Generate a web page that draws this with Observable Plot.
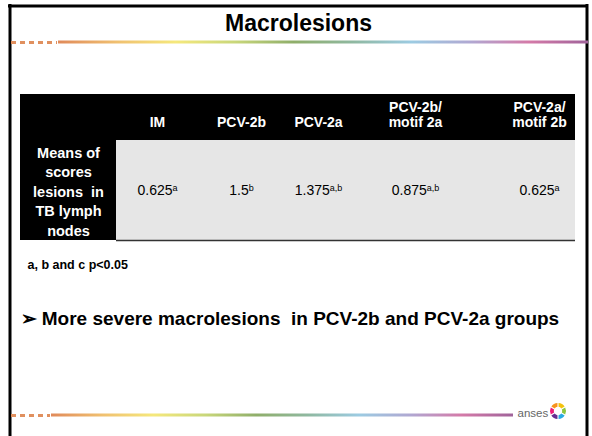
<!DOCTYPE html>
<html><head><meta charset="utf-8">
<script src="https://cdn.jsdelivr.net/npm/d3@7"></script>
<script src="https://cdn.jsdelivr.net/npm/@observablehq/plot@0.6"></script>
<style>
body{margin:0;background:#fff;}
#chart svg{display:block;font-family:"Liberation Sans",Arial,sans-serif;}
</style>
</head><body><div id="chart"></div>
<script>
// ---- data ----
const title = "Macrolesions";
const groups = ["IM", "PCV-2b", "PCV-2a", "PCV-2b/ motif 2a", "PCV-2a/ motif 2b"];
const headerLabels = ["IM", "PCV-2b", "PCV-2a", "PCV-2b/\nmotif 2a", "PCV-2a/\nmotif 2b"];
const means = [0.625, 1.5, 1.375, 0.875, 0.625];
const significance = ["a", "b", "a,b", "a,b", "a"];
const rowLabel = "Means of\nscores\nlesions  in\nTB lymph\nnodes";
const footnote = "a, b and c p<0.05";
const conclusion = "\u27A2 More severe macrolesions  in PCV-2b and PCV-2a groups";
const brand = "anses";
const rainbow = ["#e08a5a", "#f0c070", "#f5e87c", "#c9d77a", "#8fae6a", "#8fb8a0", "#9ccbe2", "#b0a8d2", "#d47aa8", "#a0639a"];
const logoColors = ["#f4c20d", "#8cc63f", "#29abe2", "#662d91", "#ed1e79", "#f7931e"];

// ---- layout ----
const W = 592, H = 436;
const table = {x0: 20, xSplit: 116, x1: 575, yTop: 94, yHead: 140, yBottom: 240};
const colCenter = [157, 241, 318, 415, 539];
const font = '"Liberation Sans", Arial, sans-serif';

const defs = () => {
  const s = d3.create("svg:defs");
  const lg = s.append("linearGradient").attr("id", "rainbowGrad").attr("x1", "0").attr("x2", "1").attr("y1", "0").attr("y2", "0");
  rainbow.forEach((c, i) => lg.append("stop").attr("offset", i / (rainbow.length - 1)).attr("stop-color", c));
  return s.node();
};

const logo = (index, {x, y}) => {
  const g = d3.create("svg:g").attr("transform", `translate(${x(558)},${y(411)})`);
  const pie = d3.pie().value(1).sort(null).padAngle(0.12)(logoColors);
  const arc = d3.arc().innerRadius(4.2).outerRadius(8);
  g.selectAll("path").data(pie).join("path").attr("d", arc).attr("fill", d => d.data);
  return g.node();
};

const valueRecords = means.map((v, i) => ({group: groups[i], value: v, sig: significance[i], x: colCenter[i]}));
const headerRecords = headerLabels.map((h, i) => ({label: h, x: colCenter[i]}));

const plot = Plot.plot({
  width: W, height: H,
  margin: 0,
  x: {type: "linear", domain: [0, W], range: [0, W], axis: null},
  y: {type: "linear", domain: [0, H], range: [0, H], axis: null},
  style: {fontFamily: font, background: "#fff"},
  marks: [
    defs,
    // slide border
    Plot.ruleY([5.5], {x1: 8, x2: 588, stroke: "#000", strokeWidth: 3}),
    Plot.ruleX([9.5, 586.5], {y1: 4, y2: H, stroke: "#000", strokeWidth: 3}),
    // top decorative line
    Plot.ruleY([42], {x1: 11, x2: 57, stroke: "#e0905f", strokeWidth: 3, strokeDasharray: "5,4"}),
    Plot.rect([0], {x1: 58, x2: 588, y1: 40.5, y2: 43.5, fill: "url(#rainbowGrad)"}),
    // bottom decorative line
    Plot.ruleY([415], {x1: 11, x2: 50, stroke: "#e0905f", strokeWidth: 3, strokeDasharray: "5,4"}),
    Plot.rect([0], {x1: 51, x2: 513, y1: 413.5, y2: 416.5, fill: "url(#rainbowGrad)"}),
    Plot.text([brand], {x: 517, y: 413, text: d => d, textAnchor: "start", fontSize: 11.5, fill: "#666"}),
    logo,
    // title
    Plot.text([title], {x: 298, y: 23, text: d => d, fontSize: 23, fontWeight: "bold", fill: "#000"}),
    // table
    Plot.rect([0], {x1: table.x0, x2: table.x1, y1: table.yTop, y2: table.yHead, fill: "#000"}),
    Plot.rect([0], {x1: table.x0, x2: table.xSplit, y1: table.yHead, y2: table.yBottom, fill: "#000"}),
    Plot.rect([0], {x1: table.xSplit, x2: table.x1, y1: table.yHead, y2: table.yBottom, fill: "#e6e6e6"}),
    Plot.ruleY([table.yBottom], {x1: table.xSplit, x2: table.x1, stroke: "#333", strokeWidth: 1.5}),
    Plot.text(headerRecords, {x: "x", y: 126, text: "label", lineAnchor: "bottom", lineHeight: 1.05, fontSize: 14, fontWeight: "bold", fill: "#fff"}),
    Plot.text([rowLabel], {x: (table.x0 + table.xSplit) / 2, y: (table.yHead + table.yBottom) / 2, text: d => d, lineHeight: 1.35, fontSize: 14.5, fontWeight: "bold", fill: "#fff", style: "white-space: pre"}),
    Plot.text(valueRecords, {
      x: "x", y: 190, text: d => String(d.value), fontSize: 14, fill: "#000",
      render(index, scales, values, dimensions, context, next) {
        const g = next(index, scales, values, dimensions, context);
        d3.select(g).selectAll("text").each(function(i) {
          d3.select(this).append("tspan").attr("dy", "-0.45em").attr("font-size", "9px").text(valueRecords[i].sig);
        });
        return g;
      }
    }),
    // footnote and conclusion
    Plot.text([footnote], {x: 27, y: 264, text: d => d, textAnchor: "start", fontSize: 12.5, fontWeight: "bold", fill: "#000"}),
    Plot.text([conclusion], {x: 20, y: 318, text: d => d, textAnchor: "start", fontSize: 19, fontWeight: "bold", fill: "#000", style: "white-space: pre"})
  ]
});
document.getElementById("chart").appendChild(plot);
</script>
</body></html>
